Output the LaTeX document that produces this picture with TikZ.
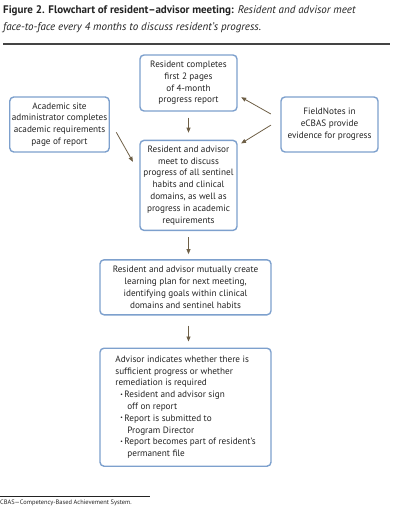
\documentclass[tikz,border=0pt]{standalone}
\usepackage{fontspec}
\setmainfont{PT Sans}
\usetikzlibrary{positioning,calc,arrows.meta}
\definecolor{boxblue}{RGB}{125,160,205}
\definecolor{arrowbrown}{RGB}{110,95,70}
\definecolor{textgray}{RGB}{35,35,35}

\tikzset{
  flowbox/.style={rectangle, rounded corners=4pt, draw=boxblue, line width=1.4pt,
    align=center, inner sep=2pt, text=textgray,
    font=\fontsize{9.2}{11.8}\selectfont},
  flowarrow/.style={draw=arrowbrown, line width=0.8pt,
    -{Triangle[length=5pt,width=4pt]}}
}

\newcommand{\bul}{\hspace*{5pt}{\raisebox{1.5pt}{\scalebox{0.6}{\textbullet}}}\,}

\begin{document}
\begin{tikzpicture}[x=1pt, y=-1pt]
  \useasboundingbox (0,0) rectangle (403,511);

  % caption
  \node[anchor=north west, align=left, inner sep=0pt, text=textgray,
        font=\fontsize{11}{17.5}\selectfont] (caption) at (3,5)
    {\textbf{Figure 2. Flowchart of resident--advisor meeting:} \textit{Resident and advisor meet}\\
     \textit{face-to-face every 4 months to discuss resident's progress.}};
  \draw[line width=1.5pt, textgray!85] (3,44) -- (390,44);

  % top row
  \node[flowbox, minimum width=97pt, minimum height=56pt] (report) at (188.5,83)
    {Resident completes\\first 2 pages\\of 4-month\\progress report};
  \node[flowbox, minimum width=97pt, minimum height=55pt] (admin) at (59.5,124.5)
    {Academic site\\administrator completes\\academic requirements\\page of report};
  \node[flowbox, minimum width=97pt, minimum height=55pt] (field) at (329.5,124.5)
    {FieldNotes in\\eCBAS provide\\evidence for progress};

  % middle column
  \node[flowbox, minimum width=97pt, minimum height=90pt, below=28pt of report] (meet)
    {Resident and advisor\\meet to discuss\\progress of all sentinel\\habits and clinical\\domains, as well as\\progress in academic\\requirements};
  \node[flowbox, minimum width=171pt, minimum height=55pt, below=28pt of meet, xshift=-3pt] (plan)
    {Resident and advisor mutually create\\learning plan for next meeting,\\identifying goals within clinical\\domains and sentinel habits};
  \node[flowbox, align=left, minimum width=171pt, minimum height=118pt, inner xsep=9pt,
        below=32pt of plan] (signoff)
    {Advisor indicates whether there is\\
     sufficient progress or whether\\
     remediation is required\\
     \bul Resident and advisor sign\\
     \hspace*{12pt}off on report\\
     \bul Report is submitted to\\
     \hspace*{12pt}Program Director\\
     \bul Report becomes part of resident's\\
     \hspace*{12pt}permanent file};

  % connectors
  \draw[flowarrow, shorten <=6pt, shorten >=7pt] (report) -- (meet);
  \draw[flowarrow, shorten <=13pt, shorten >=13pt] (admin.4) -- (meet.166);
  \draw[flowarrow, shorten <=11pt, shorten >=4pt] (field.174) -- (report.-14);
  \draw[flowarrow, shorten <=11pt, shorten >=4pt] (field.174) -- (meet.39);
  \draw[flowarrow, shorten <=6pt, shorten >=5pt] (meet) -- (meet |- plan.north);
  \draw[flowarrow, shorten <=10pt, shorten >=6pt] (meet |- plan.south) -- (meet |- signoff.north);

  % footnote
  \draw[line width=0.4pt, textgray] (0,496) -- (150,496);
  \node[anchor=north west, inner sep=0pt, text=textgray, font=\fontsize{6.4}{7}\selectfont] (note) at (0,500)
    {CBAS---Competency-Based Achievement System.};
\end{tikzpicture}
\end{document}
